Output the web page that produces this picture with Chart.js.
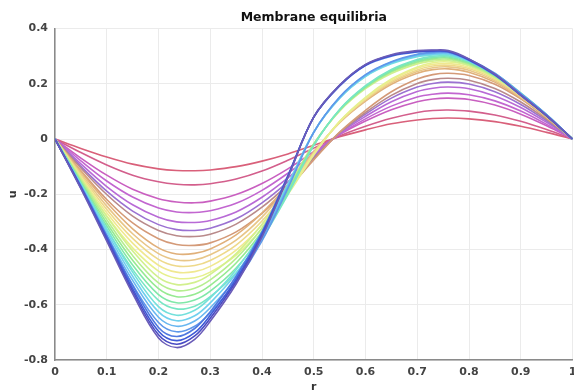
<!DOCTYPE html>
<html>
<head>
<meta charset="utf-8">
<script src="https://cdn.jsdelivr.net/npm/chart.js@4.4.1/dist/chart.umd.min.js"></script>
<style>
  html, body { margin: 0; padding: 0; background: #fff; }
  #wrap { width: 574px; height: 392px; position: relative; }
</style>
</head>
<body>
<div id="wrap"><canvas id="membraneChart"></canvas></div>
<script>
// radial positions shared by every curve
const rValues = [0, 0.05, 0.1, 0.15, 0.2, 0.235, 0.27, 0.3, 0.35, 0.4, 0.45, 0.5, 0.55, 0.6, 0.65, 0.7, 0.73, 0.76, 0.8, 0.85, 0.9, 0.95, 1];

// equilibrium profiles u(r), smallest amplitude first
const u01 = [0, -0.034, -0.065, -0.091, -0.108, -0.114, -0.115, -0.112, -0.100, -0.080, -0.054, -0.023, 0.008, 0.033, 0.055, 0.069, 0.074, 0.076, 0.073, 0.063, 0.046, 0.024, 0];
const u02 = [0, -0.049, -0.094, -0.131, -0.155, -0.164, -0.166, -0.162, -0.145, -0.116, -0.077, -0.033, 0.011, 0.046, 0.075, 0.096, 0.103, 0.105, 0.101, 0.087, 0.064, 0.034, 0];
const u03 = [0, -0.069, -0.131, -0.182, -0.216, -0.228, -0.231, -0.225, -0.201, -0.161, -0.108, -0.046, 0.016, 0.065, 0.106, 0.135, 0.145, 0.148, 0.143, 0.123, 0.090, 0.048, 0];
const u04 = [0, -0.079, -0.152, -0.210, -0.250, -0.264, -0.266, -0.260, -0.233, -0.186, -0.124, -0.053, 0.017, 0.073, 0.119, 0.152, 0.162, 0.166, 0.160, 0.138, 0.101, 0.053, 0];
const u05 = [0, -0.090, -0.172, -0.238, -0.283, -0.300, -0.302, -0.295, -0.264, -0.211, -0.141, -0.060, 0.020, 0.082, 0.135, 0.172, 0.184, 0.188, 0.182, 0.156, 0.114, 0.060, 0];
const u06 = [0, -0.099, -0.189, -0.261, -0.310, -0.328, -0.331, -0.323, -0.289, -0.231, -0.155, -0.066, 0.022, 0.090, 0.148, 0.188, 0.201, 0.206, 0.199, 0.171, 0.125, 0.066, 0];
const u07 = [0, -0.105, -0.201, -0.279, -0.331, -0.350, -0.353, -0.345, -0.308, -0.247, -0.165, -0.070, 0.023, 0.096, 0.158, 0.201, 0.215, 0.220, 0.213, 0.183, 0.134, 0.071, 0];
const u08 = [0, -0.115, -0.219, -0.304, -0.361, -0.382, -0.385, -0.376, -0.336, -0.269, -0.180, -0.076, 0.025, 0.104, 0.171, 0.217, 0.233, 0.238, 0.230, 0.198, 0.145, 0.076, 0];
const u09 = [0, -0.118, -0.230, -0.325, -0.394, -0.416, -0.414, -0.398, -0.347, -0.268, -0.166, -0.046, 0.059, 0.137, 0.198, 0.238, 0.251, 0.254, 0.242, 0.206, 0.148, 0.078, 0];
const u10 = [0, -0.125, -0.243, -0.343, -0.415, -0.438, -0.437, -0.419, -0.366, -0.283, -0.175, -0.049, 0.060, 0.141, 0.203, 0.244, 0.258, 0.261, 0.249, 0.211, 0.152, 0.080, 0];
const u11 = [0, -0.131, -0.255, -0.360, -0.436, -0.460, -0.458, -0.440, -0.384, -0.297, -0.184, -0.052, 0.062, 0.144, 0.208, 0.250, 0.264, 0.267, 0.255, 0.216, 0.156, 0.082, 0];
const u12 = [0, -0.137, -0.267, -0.377, -0.457, -0.482, -0.480, -0.461, -0.402, -0.311, -0.192, -0.055, 0.063, 0.147, 0.213, 0.256, 0.270, 0.273, 0.260, 0.221, 0.159, 0.084, 0];
const u13 = [0, -0.143, -0.279, -0.394, -0.478, -0.504, -0.502, -0.482, -0.420, -0.325, -0.201, -0.058, 0.064, 0.151, 0.217, 0.261, 0.276, 0.279, 0.266, 0.226, 0.163, 0.086, 0];
const u14 = [0, -0.142, -0.280, -0.405, -0.501, -0.527, -0.519, -0.490, -0.415, -0.309, -0.173, -0.017, 0.101, 0.182, 0.237, 0.272, 0.282, 0.284, 0.266, 0.222, 0.158, 0.083, 0];
const u15 = [0, -0.148, -0.292, -0.422, -0.521, -0.549, -0.540, -0.510, -0.432, -0.322, -0.180, -0.019, 0.103, 0.185, 0.242, 0.277, 0.287, 0.289, 0.271, 0.226, 0.160, 0.085, 0];
const u16 = [0, -0.154, -0.304, -0.439, -0.542, -0.571, -0.562, -0.530, -0.449, -0.335, -0.187, -0.020, 0.105, 0.188, 0.245, 0.280, 0.291, 0.293, 0.274, 0.229, 0.163, 0.086, 0];
const u17 = [0, -0.159, -0.315, -0.456, -0.563, -0.593, -0.583, -0.551, -0.467, -0.348, -0.194, -0.022, 0.106, 0.190, 0.248, 0.284, 0.295, 0.297, 0.278, 0.233, 0.165, 0.087, 0];
const u18 = [0, -0.165, -0.327, -0.472, -0.584, -0.615, -0.605, -0.571, -0.484, -0.361, -0.201, -0.024, 0.107, 0.193, 0.252, 0.288, 0.299, 0.301, 0.282, 0.236, 0.167, 0.088, 0];
const u19 = [0, -0.162, -0.326, -0.482, -0.607, -0.638, -0.620, -0.575, -0.473, -0.337, -0.163, 0.025, 0.147, 0.226, 0.272, 0.298, 0.304, 0.305, 0.281, 0.231, 0.161, 0.085, 0];
const u20 = [0, -0.167, -0.337, -0.497, -0.626, -0.658, -0.640, -0.593, -0.488, -0.348, -0.168, 0.025, 0.149, 0.228, 0.275, 0.301, 0.307, 0.308, 0.283, 0.233, 0.162, 0.086, 0];
const u21 = [0, -0.172, -0.347, -0.512, -0.645, -0.678, -0.659, -0.611, -0.503, -0.358, -0.173, 0.024, 0.150, 0.231, 0.278, 0.304, 0.310, 0.311, 0.286, 0.236, 0.164, 0.087, 0];
const u22 = [0, -0.177, -0.357, -0.527, -0.664, -0.698, -0.678, -0.629, -0.517, -0.369, -0.179, 0.024, 0.152, 0.233, 0.280, 0.307, 0.313, 0.314, 0.289, 0.238, 0.165, 0.088, 0];
const u23 = [0, -0.170, -0.350, -0.531, -0.682, -0.715, -0.686, -0.625, -0.497, -0.336, -0.132, 0.079, 0.192, 0.266, 0.300, 0.315, 0.317, 0.315, 0.285, 0.231, 0.158, 0.084, 0];
const u24 = [0, -0.174, -0.358, -0.542, -0.696, -0.730, -0.701, -0.638, -0.507, -0.343, -0.135, 0.079, 0.193, 0.268, 0.302, 0.317, 0.319, 0.317, 0.287, 0.233, 0.159, 0.084, 0];
const u25 = [0, -0.177, -0.364, -0.551, -0.709, -0.743, -0.713, -0.649, -0.516, -0.349, -0.137, 0.079, 0.194, 0.268, 0.303, 0.318, 0.320, 0.318, 0.288, 0.234, 0.159, 0.084, 0];
const u26 = [0, -0.180, -0.370, -0.560, -0.720, -0.755, -0.725, -0.660, -0.525, -0.355, -0.140, 0.080, 0.195, 0.270, 0.305, 0.320, 0.322, 0.320, 0.290, 0.235, 0.160, 0.085, 0];

const profiles = [u01, u02, u03, u04, u05, u06, u07, u08, u09, u10, u11, u12, u13,
                  u14, u15, u16, u17, u18, u19, u20, u21, u22, u23, u24, u25, u26];

// line colours, same order as the profiles
const lineColors = [
    '#d9607a', '#d35f8c', '#c95fc0', '#c266d0', '#b86ad6', '#9b72d2', '#b98a8a', '#d49a78',
    '#e0b07a', '#e8c688', '#eed98a', '#f0e890', '#e6f08e', '#d2f08e', '#b6ee90', '#96ea92',
    '#80e8a8', '#78e6c4', '#74e0dc', '#70d0ee', '#68b6f0', '#5e98ea', '#4f78e0', '#3f5ad6',
    '#4a4cc4', '#6a5cb8'
];

const xTickValues = [0, 0.1, 0.2, 0.3, 0.4, 0.5, 0.6, 0.7, 0.8, 0.9, 1];
const xTickLabels = ['0', '0.1', '0.2', '0.3', '0.4', '0.5', '0.6', '0.7', '0.8', '0.9', '1'];
const yTickValues = [-0.8, -0.6, -0.4, -0.2, 0, 0.2, 0.4];
const yTickLabels = ['-0.8', '-0.6', '-0.4', '-0.2', '0', '0.2', '0.4'];

const chartTitle = 'Membrane equilibria';
const xTitle = 'r';
const yTitle = 'u';

const FONT = "'DejaVu Sans', 'Liberation Sans', sans-serif";

// build datasets, largest curve first so it ends up drawn on top
const datasets = profiles.map((u, i) => ({
    label: 'curve ' + (i + 1),
    data: rValues.map((r, k) => ({ x: r, y: u[k] })),
    borderColor: lineColors[i],
    borderWidth: 1.6,
    pointRadius: 0,
    tension: 0.35,
    fill: false
})).reverse();

// title and axis labels, placed like the MATLAB figure (centred on the axes)
const labelsPlugin = {
    id: 'matlabLabels',
    afterDraw(chart) {
        const ctx = chart.ctx;
        const area = chart.chartArea;
        const cx = (area.left + area.right) / 2;
        const cy = (area.top + area.bottom) / 2;
        ctx.save();
        ctx.fillStyle = '#111';
        ctx.textAlign = 'center';
        ctx.textBaseline = 'middle';
        ctx.font = 'bold 12.5px ' + FONT;
        ctx.fillText(chartTitle, cx, 18);
        ctx.fillStyle = '#333';
        ctx.font = 'bold 11px ' + FONT;
        ctx.fillText(xTitle, cx, 387);
        ctx.translate(13, cy);
        ctx.rotate(-Math.PI / 2);
        ctx.fillText(yTitle, 0, 0);
        ctx.restore();
    }
};

const canvas = document.getElementById('membraneChart');
canvas.chart = new Chart(canvas.getContext('2d'), {
    type: 'line',
    data: { datasets: datasets },
    options: {
        responsive: true,
        maintainAspectRatio: false,
        animation: false,
        layout: { padding: { left: 0, right: 1.5, top: 28.5, bottom: 0 } },
        plugins: {
            legend: { display: false },
            title: { display: false },
            tooltip: { enabled: false }
        },
        scales: {
            x: {
                type: 'linear',
                min: 0,
                max: 1,
                afterBuildTicks: scale => { scale.ticks = xTickValues.map(v => ({ value: v })); },
                afterFit: scale => { scale.height = 32; scale.paddingLeft = 0; scale.paddingRight = 0; },
                ticks: {
                    callback: (v, idx) => xTickLabels[idx],
                    maxRotation: 0,
                    autoSkip: false,
                    padding: 6,
                    color: '#444',
                    font: { family: FONT, size: 11, weight: 'bold' }
                },
                grid: { color: '#ebebeb', lineWidth: 1, drawTicks: false },
                border: { color: '#8a8a8a', width: 1.5 }
            },
            y: {
                type: 'linear',
                min: -0.8,
                max: 0.4,
                afterBuildTicks: scale => { scale.ticks = yTickValues.map(v => ({ value: v })); },
                afterFit: scale => { scale.width = 55; },
                ticks: {
                    callback: (v, idx) => yTickLabels[idx],
                    autoSkip: false,
                    padding: 7,
                    color: '#444',
                    font: { family: FONT, size: 11, weight: 'bold' }
                },
                grid: { color: '#ebebeb', lineWidth: 1, drawTicks: false },
                border: { color: '#8a8a8a', width: 1.5 }
            }
        }
    },
    plugins: [labelsPlugin]
});
</script>
</body>
</html>
